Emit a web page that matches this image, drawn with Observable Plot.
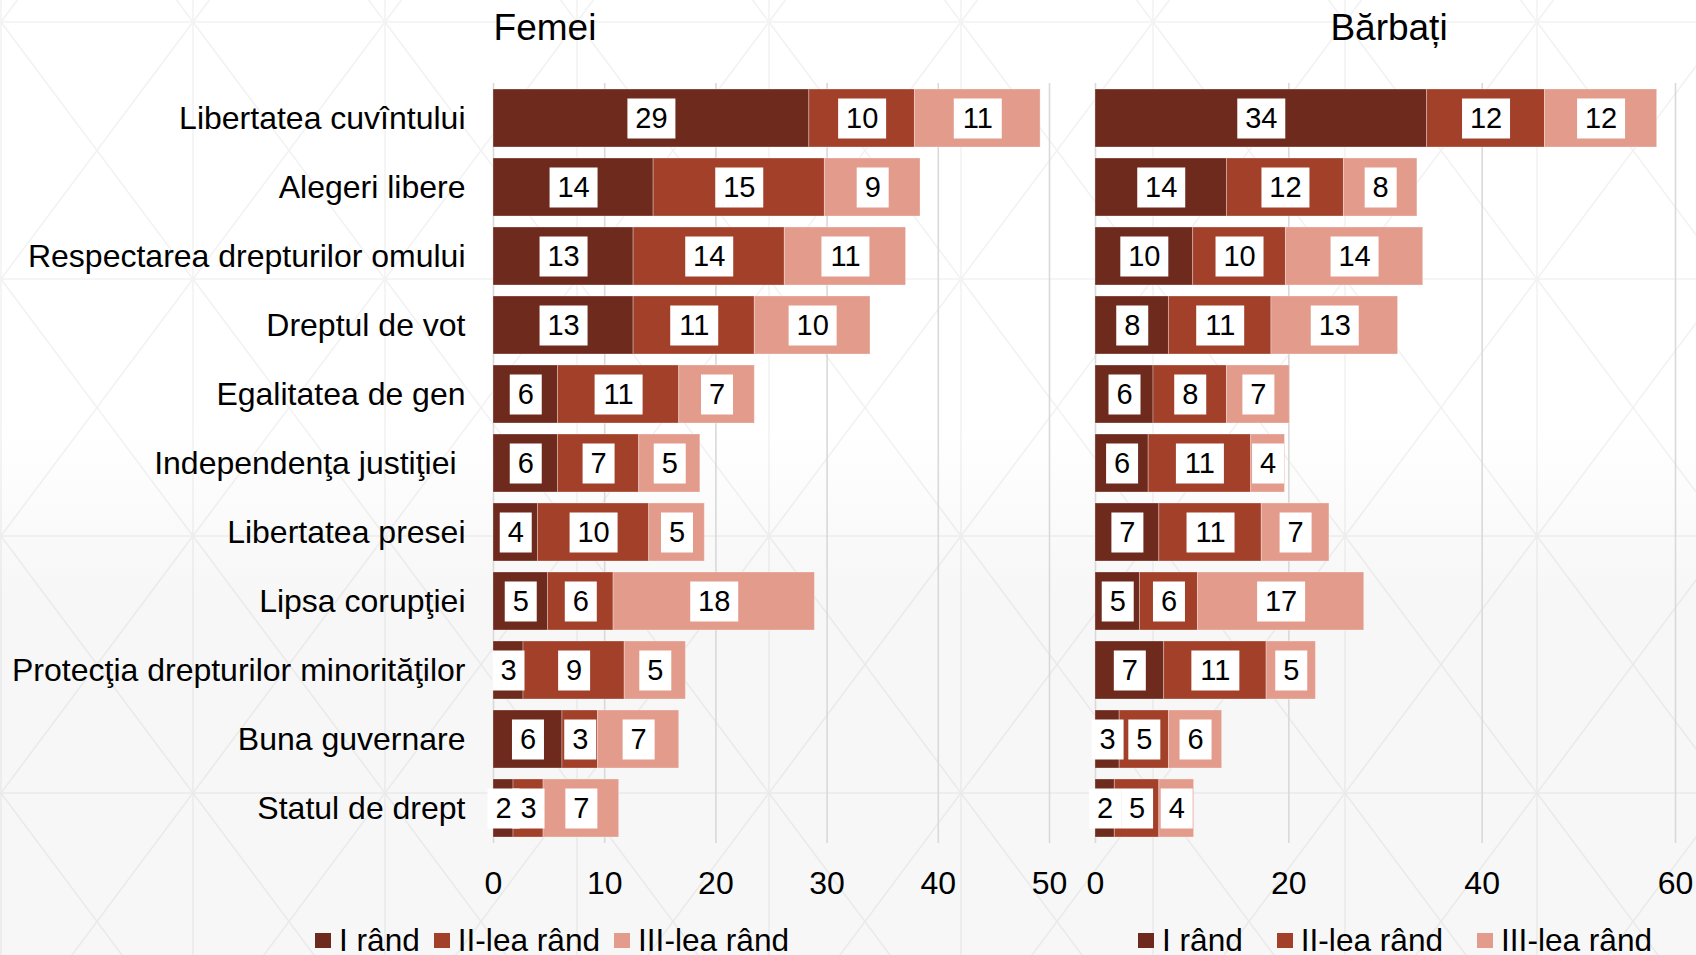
<!DOCTYPE html>
<html>
<head>
<meta charset="utf-8">
<script src="https://cdn.jsdelivr.net/npm/d3@7"></script>
<script src="https://cdn.jsdelivr.net/npm/@observablehq/plot@0.6"></script>
<style>
  html, body { margin: 0; padding: 0; }
  body { width: 1696px; height: 955px; overflow: hidden; font-family: "Liberation Sans", Arial, sans-serif; color: #000; }
  #page { position: relative; width: 1696px; height: 955px; }
  .title { position: absolute; top: 9px; font-size: 37px; line-height: 37px; text-align: center; }
  .chart { position: absolute; top: 50px; }
  .legend { position: absolute; top: 928px; display: flex; align-items: center; font-size: 31.6px; line-height: 24px; white-space: nowrap; }
  .legend .item { display: flex; align-items: center; }
  .legend .sw { width: 16px; height: 15px; margin-right: 8px; }
</style>
</head>
<body>
<div id="page">
  <div class="title" style="left:0;width:1090px;">Femei</div>
  <div class="title" style="left:1090px;width:598px;">Bărbați</div>
  <div class="chart" id="c1" style="left:0;"></div>
  <div class="chart" id="c2" style="left:1072px;"></div>
  <div class="legend" id="l1" style="left:315px;"></div>
  <div class="legend" id="l2" style="left:1138px;"></div>
</div>
<script>
// ---------------- data ----------------
const categories = [
  "Libertatea cuvîntului",
  "Alegeri libere",
  "Respectarea drepturilor omului",
  "Dreptul de vot",
  "Egalitatea de gen",
  "Independenţa justiţiei\u00a0",
  "Libertatea presei",
  "Lipsa corupţiei",
  "Protecţia drepturilor minorităţilor",
  "Buna guvernare",
  "Statul de drept"
];
const series = ["I rând", "II-lea rând", "III-lea rând"];
const seriesColors = ["#6E2A1D", "#A34029", "#E39B8C"];

// bar lengths
const femeiI   = [28.4, 14.4, 12.6, 12.6, 5.8, 5.8, 4.0, 4.9, 2.7, 6.2, 1.8];
const femeiII  = [9.5, 15.4, 13.6, 10.9, 10.9, 7.3, 10.0, 5.9, 9.1, 3.2, 2.7];
const femeiIII = [11.3, 8.6, 10.9, 10.4, 6.8, 5.5, 5.0, 18.1, 5.5, 7.3, 6.8];
const barbatiI   = [34.3, 13.6, 10.1, 7.6, 6.0, 5.5, 6.6, 4.6, 7.1, 2.5, 2.0];
const barbatiII  = [12.2, 12.1, 9.6, 10.6, 7.6, 10.6, 10.6, 6.0, 10.6, 5.1, 4.6];
const barbatiIII = [11.6, 7.6, 14.2, 13.1, 6.5, 3.5, 7.0, 17.2, 5.1, 5.5, 3.6];

// printed data labels
const femeiLabI   = [29, 14, 13, 13, 6, 6, 4, 5, 3, 6, 2];
const femeiLabII  = [10, 15, 14, 11, 11, 7, 10, 6, 9, 3, 3];
const femeiLabIII = [11, 9, 11, 10, 7, 5, 5, 18, 5, 7, 7];
const barbatiLabI   = [34, 14, 10, 8, 6, 6, 7, 5, 7, 3, 2];
const barbatiLabII  = [12, 12, 10, 11, 8, 11, 11, 6, 11, 5, 5];
const barbatiLabIII = [12, 8, 14, 13, 7, 4, 7, 17, 5, 6, 4];

const femeiTicks = [0, 10, 20, 30, 40, 50];
const barbatiTicks = [0, 20, 40, 60];

// ---------------- background ----------------
const tile = `<svg xmlns='http://www.w3.org/2000/svg' width='192' height='257'><g stroke='#000' stroke-opacity='0.05' stroke-width='1.5' fill='none'><path d='M0 1H192M1 0V257M-18.2 -24.7L212.2 283.7M212.2 -24.7L-18.2 283.7'/></g></svg>`;
document.getElementById("page").style.background =
  `url("data:image/svg+xml,${encodeURIComponent(tile)}") 0px 21px repeat, linear-gradient(to bottom, #ffffff 0%, #ffffff 45%, #f7f7f7 62%, #f7f7f7 100%)`;

// ---------------- helpers ----------------
function build(vals, labs) {
  const rows = [];
  categories.forEach((c, i) => {
    let acc = 0;
    series.forEach((s, j) => {
      const v = vals[j][i];
      rows.push({cat: c, series: s, x1: acc, x2: acc + v, mid: acc + v / 2, label: labs[j][i]});
      acc += v;
    });
  });
  return rows;
}
function box(w, h) {
  return {draw(ctx) { ctx.rect(-w / 2, -h / 2, w, h); }};
}
const FONT = "'Liberation Sans', Arial, sans-serif";

function chart(rows, opts) {
  return Plot.plot({
    width: opts.width,
    height: 853,
    marginTop: 33,
    marginBottom: 60,
    marginLeft: opts.marginLeft,
    marginRight: opts.marginRight,
    style: {fontFamily: FONT, fontSize: "32px", background: "transparent", overflow: "visible", color: "#000"},
    x: {domain: opts.domain, ticks: opts.ticks, tickSize: 0, tickPadding: 28, label: null, tickFormat: d => d},
    y: opts.showY
      ? {domain: categories, paddingInner: 0.166, paddingOuter: 0.075, align: 0.5, tickSize: 0, tickPadding: 28, label: null}
      : {domain: categories, paddingInner: 0.166, paddingOuter: 0.075, align: 0.5, axis: null},
    color: {domain: series, range: seriesColors},
    marks: [
      Plot.ruleX(opts.ticks, {stroke: "#d9d9d9", strokeOpacity: 1, strokeWidth: 1.6}),
      Plot.barX(rows, {x1: "x1", x2: "x2", y: "cat", fill: "series", stroke: "#ffffff", strokeOpacity: 0.3, strokeWidth: 1}),
      Plot.dot(rows.filter(d => String(d.label).length === 1), {x: "mid", y: "cat", symbol: box(32, 40), fill: "white", stroke: "none"}),
      Plot.dot(rows.filter(d => String(d.label).length > 1), {x: "mid", y: "cat", symbol: box(48, 40), fill: "white", stroke: "none"}),
      Plot.text(rows, {x: "mid", y: "cat", text: d => String(d.label), fontSize: 29, fill: "#000"})
    ]
  });
}

const femeiRows = build([femeiI, femeiII, femeiIII], [femeiLabI, femeiLabII, femeiLabIII]);
const barbatiRows = build([barbatiI, barbatiII, barbatiIII], [barbatiLabI, barbatiLabII, barbatiLabIII]);

document.getElementById("c1").appendChild(chart(femeiRows, {
  width: 1072, marginLeft: 493, marginRight: 1072 - 1049, domain: [0, 50], ticks: femeiTicks, showY: true
}));
document.getElementById("c2").appendChild(chart(barbatiRows, {
  width: 624, marginLeft: 1095 - 1072, marginRight: 1696 - 1675, domain: [0, 60], ticks: barbatiTicks, showY: false
}));

// ---------------- legends ----------------
function legend(el, gap) {
  const node = document.getElementById(el);
  node.style.gap = gap + "px";
  series.forEach((s, i) => {
    const it = document.createElement("div");
    it.className = "item";
    const sw = document.createElement("span");
    sw.className = "sw";
    sw.style.background = seriesColors[i];
    const tx = document.createElement("span");
    tx.textContent = s;
    it.appendChild(sw); it.appendChild(tx);
    node.appendChild(it);
  });
}
legend("l1", 14);
legend("l2", 34);
</script>
</body>
</html>
